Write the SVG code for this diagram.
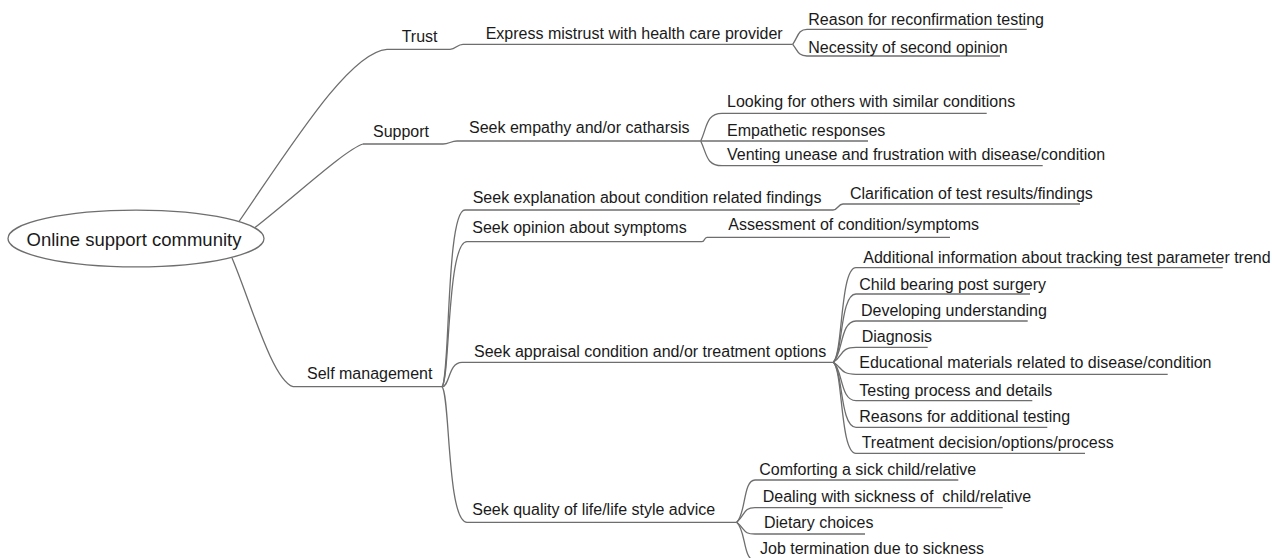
<svg xmlns="http://www.w3.org/2000/svg" width="1272" height="558" viewBox="0 0 1272 558">
<style>
text{font-family:"Liberation Sans",Arial,sans-serif;font-size:16px;fill:#1a1a1a}
.root text{font-size:18.5px}
.ln{stroke:#6e6e6e;stroke-width:1.3;fill:none}
#connectors path{stroke:#6e6e6e;stroke-width:1.3;fill:none}
ellipse{fill:#fff;stroke:#6e6e6e;stroke-width:1.3}
</style>
<rect width="1272" height="558" fill="#fff"/>
<g id="connectors">
<path d="M239 221.5 C 295 140, 350 52, 387 49.3"/>
<path d="M255 227.5 C 300 192, 345 150, 363 144"/>
<path d="M232 258 C 250 300, 272 380, 293 386.7"/>
<path d="M450 49.3 C 456 49.3, 457 44.3, 463 44.3"/>
<path d="M443 144 C 449 144, 451 141, 457 141"/>
<path d="M442 386.7 C 450 380, 446 210, 465 210"/>
<path d="M442 386.7 C 450 380, 447 241.7, 467 241.7"/>
<path d="M442 386.7 C 450 386.7, 448 362.3, 462 362.3"/>
<path d="M442 386.7 C 450 393, 447 522.3, 467 522.3"/>
<path d="M792.7 44.3 C 798 37, 798 29.3, 807 29.3"/>
<path d="M792.7 44.3 C 798 51, 798 56, 807 56"/>
<path d="M700.7 141 C 707 128, 706 113.3, 722 113.3"/>
<path d="M700.7 141 C 707 154, 706 165.7, 722 165.7"/>
<path d="M833 210 C 838 210, 838 204, 843 204"/>
<path d="M702 241.7 C 705 241.7, 704 237.3, 707 237.3"/>
<path d="M833.3 362.3 C 843 354, 840 267.7, 856 267.7"/>
<path d="M833.3 362.3 C 843 354, 840 294, 856 294"/>
<path d="M833.3 362.3 C 843 354, 840 321, 856 321"/>
<path d="M833.3 362.3 C 843 356, 840 347.3, 856 347.3"/>
<path d="M833.3 362.3 C 843 368, 840 374.3, 856 374.3"/>
<path d="M833.3 362.3 C 843 370, 840 400.7, 856 400.7"/>
<path d="M833.3 362.3 C 843 370, 840 427.3, 856 427.3"/>
<path d="M833.3 362.3 C 843 370, 840 453.3, 856 453.3"/>
<path d="M736.7 522.3 C 746 514, 743 480, 755 480"/>
<path d="M736.7 522.3 C 746 514, 743 507.7, 755 507.7"/>
<path d="M736.7 522.3 C 746 530, 743 534, 755 534"/>
<path d="M736.7 522.3 C 746 530, 743 560.5, 755 560.5"/>
</g>
<g id="root" class="root"><ellipse cx="136" cy="238.5" rx="128" ry="28.3"/><text x="134" y="246" text-anchor="middle">Online support community</text></g>
<g id="n-trust"><line class="ln" x1="387" y1="49.3" x2="450" y2="49.3"/><text x="401.7" y="41.7">Trust</text></g>
<g id="n-support"><line class="ln" x1="363" y1="144" x2="443" y2="144"/><text x="373" y="136.7">Support</text></g>
<g id="n-self"><line class="ln" x1="293" y1="386.7" x2="442" y2="386.7"/><text x="307" y="379">Self management</text></g>
<g id="n-express"><line class="ln" x1="463" y1="44.3" x2="792.7" y2="44.3"/><text x="485.7" y="39.3">Express mistrust with health care provider</text></g>
<g id="n-empathy"><line class="ln" x1="457" y1="141" x2="700.7" y2="141"/><text x="469" y="133.3">Seek empathy and/or catharsis</text></g>
<g id="n-explain"><line class="ln" x1="465" y1="210" x2="833" y2="210"/><text x="472.7" y="203.3">Seek explanation about condition related findings</text></g>
<g id="n-opinion"><line class="ln" x1="467" y1="241.7" x2="702" y2="241.7"/><text x="472.3" y="233.3">Seek opinion about symptoms</text></g>
<g id="n-appraisal"><line class="ln" x1="462" y1="362.3" x2="833.3" y2="362.3"/><text x="474" y="356.7">Seek appraisal condition and/or treatment options</text></g>
<g id="n-quality"><line class="ln" x1="467" y1="522.3" x2="736.7" y2="522.3"/><text x="472.3" y="515">Seek quality of life/life style advice</text></g>
<g id="n-reason"><line class="ln" x1="807" y1="29.3" x2="1026.7" y2="29.3"/><text x="808.3" y="25.3">Reason for reconfirmation testing</text></g>
<g id="n-necessity"><line class="ln" x1="807" y1="56" x2="1000" y2="56"/><text x="808.3" y="52.7">Necessity of second opinion</text></g>
<g id="n-looking"><line class="ln" x1="722" y1="113.3" x2="986.7" y2="113.3"/><text x="727" y="106.7">Looking for others with similar conditions</text></g>
<g id="n-empathetic"><line class="ln" x1="700.7" y1="141" x2="868" y2="141"/><text x="727" y="135.7">Empathetic responses</text></g>
<g id="n-venting"><line class="ln" x1="722" y1="165.7" x2="1042.7" y2="165.7"/><text x="727" y="160">Venting unease and frustration with disease/condition</text></g>
<g id="n-clarif"><line class="ln" x1="843" y1="204" x2="1080" y2="204"/><text x="850" y="199">Clarification of test results/findings</text></g>
<g id="n-assess"><line class="ln" x1="707" y1="237.3" x2="950" y2="237.3"/><text x="728.3" y="230">Assessment of condition/symptoms</text></g>
<g id="n-additional"><line class="ln" x1="856" y1="267.7" x2="1222.7" y2="267.7"/><text x="863.3" y="262.7">Additional information about tracking test parameter trend</text></g>
<g id="n-child"><line class="ln" x1="856" y1="294" x2="1030" y2="294"/><text x="859.3" y="290">Child bearing post surgery</text></g>
<g id="n-developing"><line class="ln" x1="856" y1="321" x2="1027.7" y2="321"/><text x="861" y="316">Developing understanding</text></g>
<g id="n-diagnosis"><line class="ln" x1="856" y1="347.3" x2="927.7" y2="347.3"/><text x="861.7" y="341.7">Diagnosis</text></g>
<g id="n-educational"><line class="ln" x1="856" y1="374.3" x2="1167.7" y2="374.3"/><text x="859.3" y="368.3">Educational materials related to disease/condition</text></g>
<g id="n-testing"><line class="ln" x1="856" y1="400.7" x2="1032.3" y2="400.7"/><text x="859.3" y="396">Testing process and details</text></g>
<g id="n-reasons"><line class="ln" x1="856" y1="427.3" x2="1047.3" y2="427.3"/><text x="859.3" y="421.7">Reasons for additional testing</text></g>
<g id="n-treatment"><line class="ln" x1="856" y1="453.3" x2="1085" y2="453.3"/><text x="861.7" y="448.3">Treatment decision/options/process</text></g>
<g id="n-comforting"><line class="ln" x1="755" y1="480" x2="958.3" y2="480"/><text x="759.3" y="475">Comforting a sick child/relative</text></g>
<g id="n-dealing"><line class="ln" x1="755" y1="507.7" x2="1002.7" y2="507.7"/><text x="762.7" y="501.7" xml:space="preserve" style="white-space:pre">Dealing with sickness of  child/relative</text></g>
<g id="n-dietary"><line class="ln" x1="755" y1="534" x2="865" y2="534"/><text x="764" y="528.3">Dietary choices</text></g>
<g id="n-job"><line class="ln" x1="755" y1="560.5" x2="975" y2="560.5"/><text x="760" y="554.3">Job termination due to sickness</text></g>
</svg>
